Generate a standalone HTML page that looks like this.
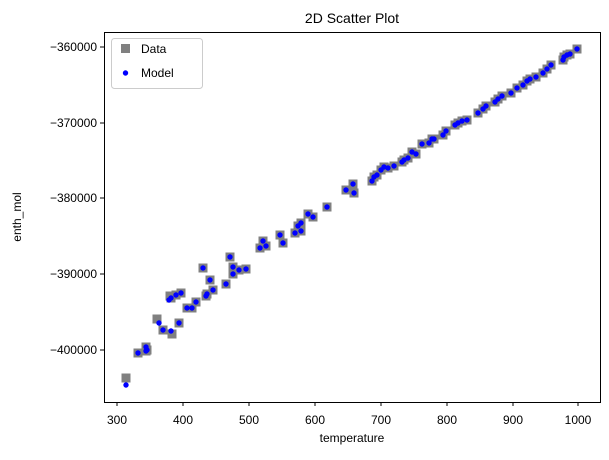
<!DOCTYPE html><html><head><style>body{margin:0;background:#fff}svg{font-family:"Liberation Sans","DejaVu Sans",sans-serif}</style></head><body>
<svg width="609" height="455" xmlns="http://www.w3.org/2000/svg">
<rect width="609" height="455" fill="#fff"/>
<text x="352" y="23" font-size="14" text-anchor="middle">2D Scatter Plot</text>
<g id="pts"></g>
<rect x="104.5" y="32.5" width="496" height="370" fill="none" stroke="#000"/>
<g stroke="#000">
<line x1="117" y1="402" x2="117" y2="406"/><line x1="183" y1="402" x2="183" y2="406"/><line x1="249" y1="402" x2="249" y2="406"/><line x1="315" y1="402" x2="315" y2="406"/><line x1="381" y1="402" x2="381" y2="406"/><line x1="447" y1="402" x2="447" y2="406"/><line x1="513" y1="402" x2="513" y2="406"/><line x1="578" y1="402" x2="578" y2="406"/>
<line x1="100" y1="47" x2="104" y2="47"/><line x1="100" y1="123" x2="104" y2="123"/><line x1="100" y1="198" x2="104" y2="198"/><line x1="100" y1="274" x2="104" y2="274"/><line x1="100" y1="350" x2="104" y2="350"/>
</g>
<g font-size="12" text-anchor="middle">
<text x="117" y="424">300</text><text x="183" y="424">400</text><text x="249" y="424">500</text><text x="315" y="424">600</text><text x="381" y="424">700</text><text x="447" y="424">800</text><text x="513" y="424">900</text><text x="578" y="424">1000</text>
<text x="352" y="442">temperature</text>
</g>
<g font-size="12" text-anchor="end">
<text x="97" y="51">−360000</text><text x="97" y="127">−370000</text><text x="97" y="202">−380000</text><text x="97" y="278">−390000</text><text x="97" y="354">−400000</text>
</g>
<text x="21" y="217" font-size="12" text-anchor="middle" transform="rotate(-90 21 217)">enth_mol</text>
<rect x="111.5" y="38.5" width="91" height="50" rx="3" fill="#fff" stroke="#ccc"/>
<rect x="121" y="44" width="9" height="9" fill="#808080"/>
<circle cx="125.5" cy="73" r="2.7" fill="#00f"/>
<text x="141" y="53" font-size="12">Data</text>
<text x="141" y="77" font-size="12">Model</text>
</svg>
<script>
var p=[[126,385,126,378],[138,353],[146,351],[146,347],[147,350],[159,323,157,319],[163,330],[171,331,172,334],[179,323],[169,300,170,296],[171,298],[176,295],[181,293],[187,308],[192,308],[196,302],[203,268],[210,280],[206,296],[207,294],[213,290],[226,284],[230,257],[233,267],[233,274],[239,270],[246,269],[260,248],[263,241],[266,246],[280,235],[283,243],[295,233],[298,226],[301,223],[301,231],[308,214],[313,217],[327,207],[346,190],[353,184],[354,193],[372,181],[374,177],[377,175],[381,170],[384,167],[388,168],[394,166],[402,162],[404,160],[408,158],[412,152],[416,154],[422,144],[429,143],[432,139],[434,139],[443,135],[446,131],[455,125],[458,123],[462,121],[467,120],[478,113],[483,109],[486,106],[495,102],[498,99],[502,96],[511,93],[517,88],[523,85],[527,81],[530,79],[536,77],[543,73],[547,69],[551,65],[563,60],[564,57],[567,55],[570,54],[577,49]];
var g=document.getElementById('pts'),s='',t='';
p.forEach(function(a){var dx=a.length>2?a[2]:a[0],dy=a.length>2?a[3]:a[1];s+='<rect x="'+(dx-4.5)+'" y="'+(dy-4.5)+'" width="9" height="9" fill="#808080"/>';t+='<circle cx="'+a[0]+'" cy="'+a[1]+'" r="2.7" fill="#00f"/>';});
g.innerHTML=s+t;
</script>
</body></html>
